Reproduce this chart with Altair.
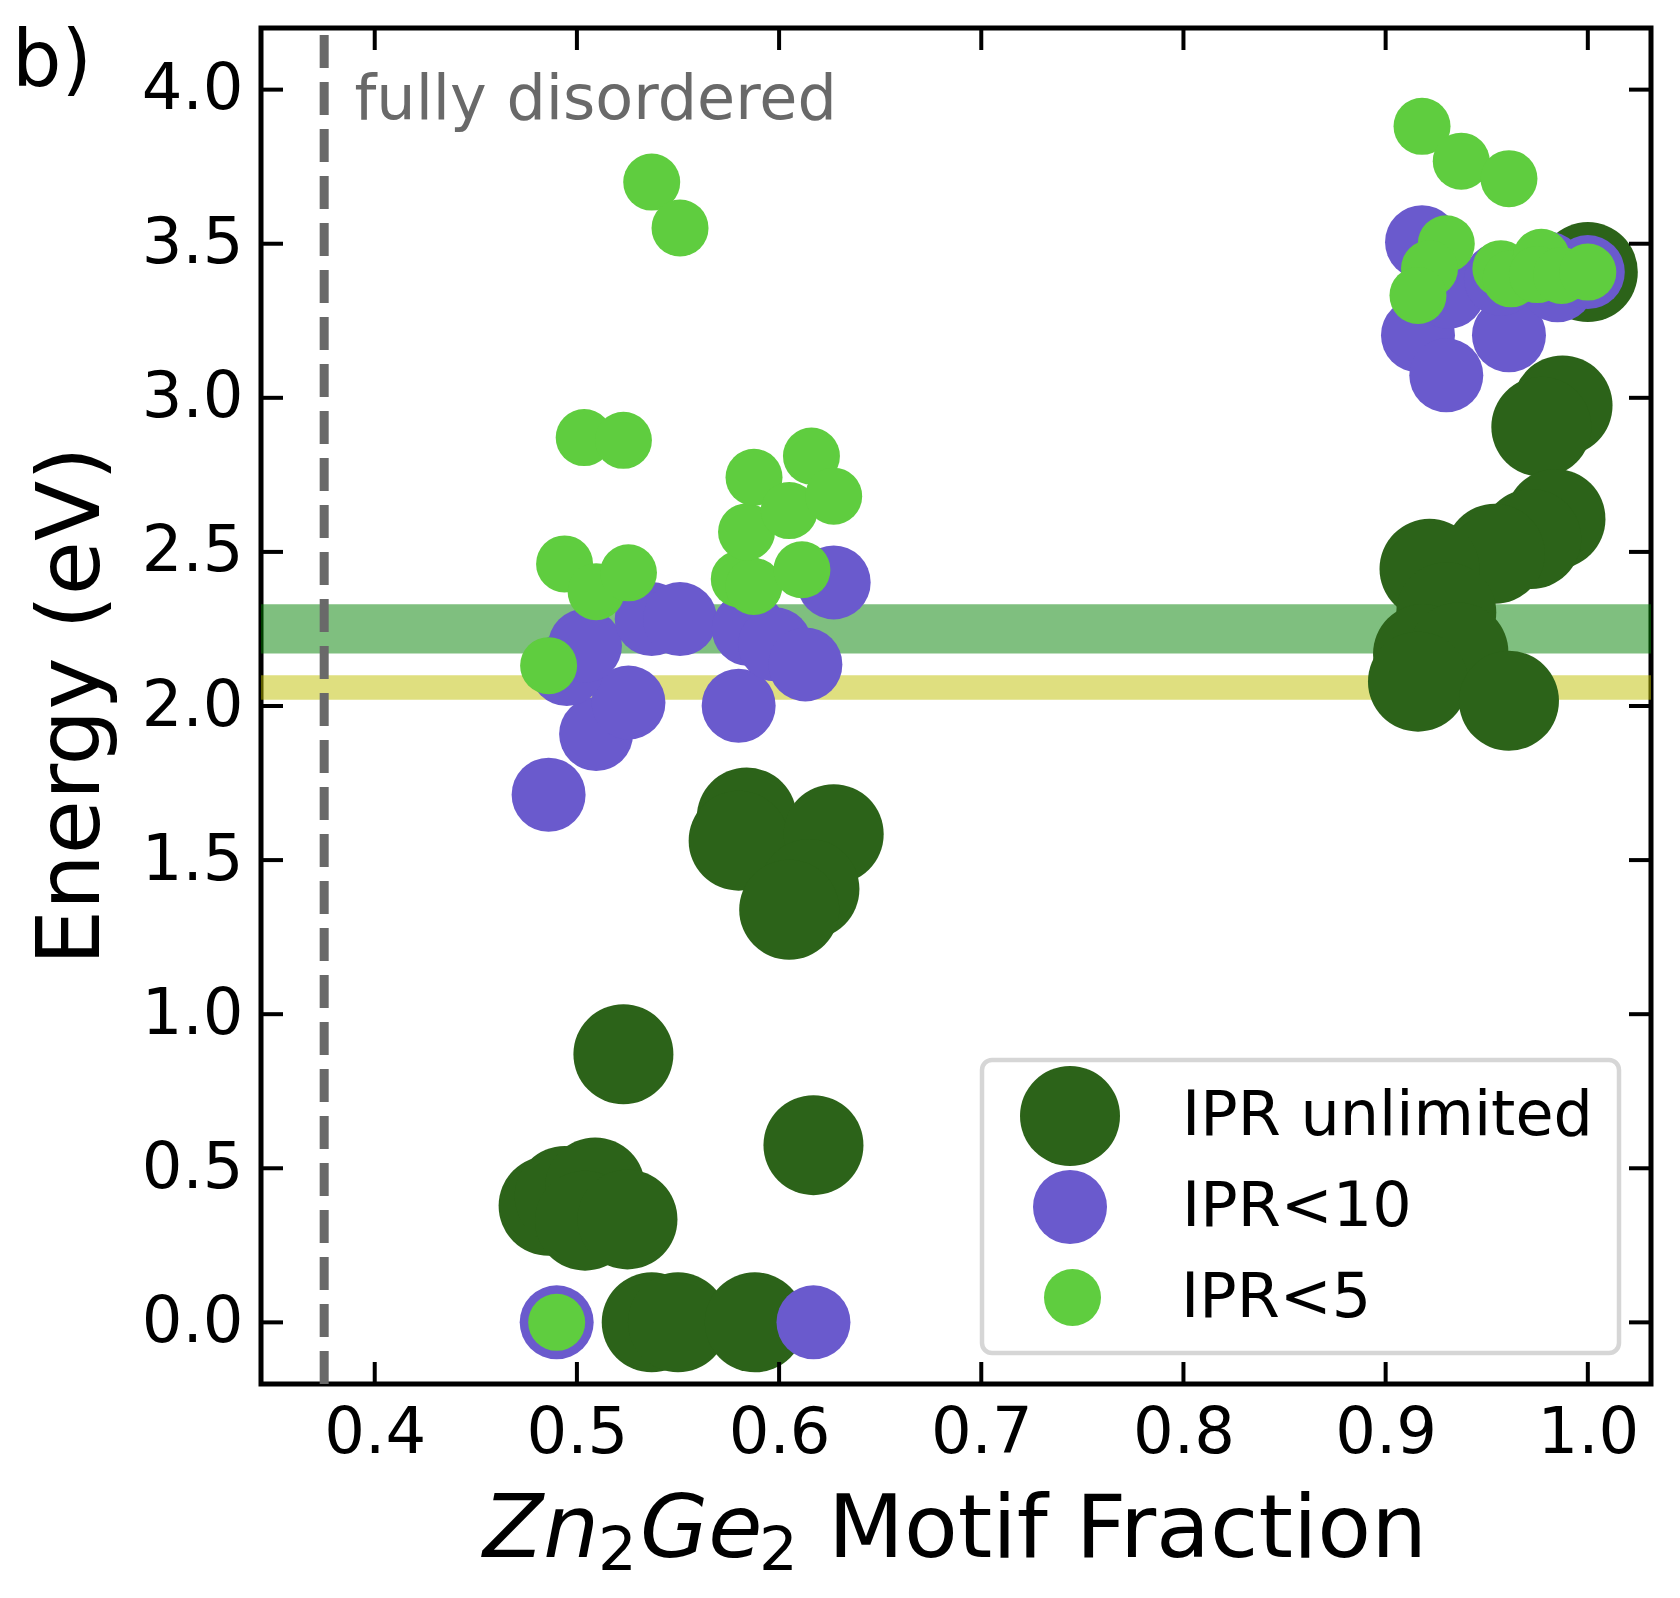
import altair as alt
import pandas as pd

# ---------------- data ----------------
cat_names = ["IPR unlimited", "IPR<10", "IPR<5"]
cat_colors = ["#2c6319", "#6a5acd", "#5fcd3f"]

unl_x = [0.537, 0.550, 0.588, 0.486, 0.494, 0.509, 0.504, 0.525, 0.523, 0.617,
         0.584, 0.580, 0.627, 0.615, 0.605,
         1.000, 0.9875, 0.977, 0.984, 0.972, 0.954, 0.9217, 0.930, 0.9185, 0.936,
         0.916, 0.961]
unl_y = [0.0, 0.0, 0.0, 0.378, 0.41, 0.438, 0.330, 0.334, 0.870, 0.575,
         1.638, 1.563, 1.584, 1.406, 1.339,
         3.408, 2.975, 2.906, 2.607, 2.542, 2.494, 2.445, 2.304, 2.169, 2.174,
         2.079, 2.017]

ipr10_x = [0.490, 0.617, 0.486, 0.5095, 0.5255, 0.495, 0.504, 0.537, 0.551, 0.580,
           0.585, 0.598, 0.613, 0.627,
           0.918, 0.916, 0.930, 0.931, 0.961, 0.957, 0.985, 0.980, 1.000]
ipr10_y = [0.0, 0.0, 1.712, 1.909, 2.011, 2.12, 2.196, 2.282, 2.282, 2.001,
           2.25, 2.20, 2.135, 2.401,
           3.505, 3.203, 3.073, 3.344, 3.203, 3.386, 3.365, 3.42, 3.408]

ipr5_x = [0.490, 0.486, 0.4939, 0.5095, 0.5255, 0.5036, 0.523, 0.537, 0.551,
          0.5803, 0.5875, 0.6113, 0.5839, 0.5876, 0.605, 0.616, 0.627,
          0.918, 0.9374, 0.961, 0.930, 0.9217, 0.916, 0.957, 0.962, 0.977, 0.975,
          0.987, 1.000]
ipr5_y = [0.0, 2.131, 2.461, 2.371, 2.432, 2.871, 2.862, 3.70, 3.551,
          2.412, 2.388, 2.442, 2.565, 2.742, 2.634, 2.811, 2.681,
          3.881, 3.768, 3.711, 3.50, 3.419, 3.332, 3.419, 3.386, 3.456, 3.40,
          3.397, 3.408]

band_green = [2.17, 2.33]
band_yellow = [2.02, 2.10]
disordered_x = [0.375]
annot_text = ["fully disordered"]
annot_x = [0.39]
annot_y = [3.905]

x_ticks = [0.4, 0.5, 0.6, 0.7, 0.8, 0.9, 1.0]
y_ticks = [0.0, 0.5, 1.0, 1.5, 2.0, 2.5, 3.0, 3.5, 4.0]

# ---------------- layout ----------------
W, H = 1390, 1356
FONT = "DejaVu Sans"
TICK = 22

xs = alt.Scale(domain=[0.34375, 1.03125], nice=False, zero=False)
ys = alt.Scale(domain=[-0.2, 4.2], nice=False, zero=False)

x_axis = alt.Axis(values=x_ticks, format=".1f", labelFontSize=64, labelFont=FONT,
                  labelColor="black", labelPadding=17, ticks=False, tickSize=0,
                  domain=False, grid=False, labelFlush=False, labelOverlap=False,
                  title=None)
y_axis = alt.Axis(values=y_ticks, format=".1f", labelFontSize=64, labelFont=FONT,
                  labelColor="black", labelPadding=18, ticks=False, tickSize=0,
                  domain=False, grid=False, labelFlush=False, labelOverlap=False,
                  title=None)


def X(field):
    return alt.X(field, scale=xs, axis=x_axis, title=None)


def Y(field):
    return alt.Y(field, scale=ys, axis=y_axis, title=None)


df_unl = pd.DataFrame({"x": unl_x, "y": unl_y, "cat": cat_names[0]})
df_10 = pd.DataFrame({"x": ipr10_x, "y": ipr10_y, "cat": cat_names[1]})
df_5 = pd.DataFrame({"x": ipr5_x, "y": ipr5_y, "cat": cat_names[2]})

sizes = [10000, 5476, 3249]
diam = [100, 74, 57]
# legend geometry (plot-relative px)
sym_cx = 809
lab_x = [921, 921, 915]
sym_cy = [1088, 1179, 1267]


def point_layer(df, i):
    lx = sym_cx - diam[i] / 2
    leg = alt.Legend(orient="none", legendX=lx,
                     legendY=sym_cy[i] - diam[i] / 2, padding=0,
                     labelFontSize=62, labelFont=FONT, labelColor="black",
                     labelOffset=lab_x[i] - lx - diam[i],
                     labelLimit=1000, symbolSize=sizes[i], symbolType="circle",
                     symbolStrokeWidth=0, symbolOpacity=1, title=None)
    return alt.Chart(df).mark_circle(size=sizes[i], opacity=1).encode(
        x=X("x:Q"), y=Y("y:Q"),
        color=alt.Color("cat:N", scale=alt.Scale(domain=[cat_names[i]], range=[cat_colors[i]]),
                        legend=leg, title=None),
    )


bands_g = alt.Chart(pd.DataFrame({"y0": [band_green[0]], "y1": [band_green[1]]})).mark_rect(
    color="green", opacity=0.5).encode(
    y=Y("y0:Q"), y2="y1:Q", x=alt.value(0), x2=alt.value(W))
bands_y = alt.Chart(pd.DataFrame({"y0": [band_yellow[0]], "y1": [band_yellow[1]]})).mark_rect(
    color="#bfbf00", opacity=0.5).encode(
    y=Y("y0:Q"), y2="y1:Q", x=alt.value(0), x2=alt.value(W))

vline = alt.Chart(pd.DataFrame({"x": disordered_x})).mark_rule(
    color="#696969", strokeWidth=9, strokeDash=[33, 14]).encode(
    x=X("x:Q"), y=alt.value(H), y2=alt.value(0))

annot = alt.Chart(pd.DataFrame({"x": annot_x, "y": annot_y, "t": annot_text})).mark_text(
    font=FONT, fontSize=62, color="#696969", align="left", baseline="alphabetic").encode(
    x=X("x:Q"), y=Y("y:Q"), text="t:N")

dfx = pd.DataFrame({"v": x_ticks})
dfy = pd.DataFrame({"v": y_ticks})
tick_kw = dict(color="black", strokeWidth=4)
t_bottom = alt.Chart(dfx).mark_rule(**tick_kw).encode(
    x=X("v:Q"), y=alt.value(H), y2=alt.value(H - TICK))
t_top = alt.Chart(dfx).mark_rule(**tick_kw).encode(
    x=X("v:Q"), y=alt.value(0), y2=alt.value(TICK))
t_left = alt.Chart(dfy).mark_rule(**tick_kw).encode(
    y=Y("v:Q"), x=alt.value(0), x2=alt.value(TICK))
t_right = alt.Chart(dfy).mark_rule(**tick_kw).encode(
    y=Y("v:Q"), x=alt.value(W), x2=alt.value(W - TICK))

legend_frame = alt.Chart(pd.DataFrame({"a": [0]})).mark_rect(
    fill="white", fillOpacity=0.8, stroke="#d6d6d6", strokeWidth=4.5, cornerRadius=10).encode(
    x=alt.value(721), x2=alt.value(1358), y=alt.value(1032), y2=alt.value(1325))


def label(text, x, y, size, style="normal", align="left", angle=0):
    return alt.Chart(pd.DataFrame({"t": [text]})).mark_text(
        font=FONT, fontSize=size, fontStyle=style, align=align, baseline="alphabetic",
        angle=angle, color="black").encode(x=alt.value(x), y=alt.value(y), text="t:N")


ytitle = label("Energy (eV)", -162, H / 2, 88, align="center", angle=270)
xt_1 = label("Zn", 222, 1529, 88, style="italic")
xt_2 = label("2", 337, 1542, 61)
xt_3 = label("Ge", 379, 1529, 88, style="italic")
xt_4 = label("2", 498, 1542, 61)
xt_5 = label("Motif Fraction", 567, 1529, 88)
panel = label("b)", -249, 58, 78)

chart = alt.layer(
    bands_g, bands_y, vline,
    point_layer(df_unl, 0), point_layer(df_10, 1), point_layer(df_5, 2),
    annot, t_bottom, t_top, t_left, t_right, legend_frame,
    ytitle, xt_1, xt_2, xt_3, xt_4, xt_5, panel,
).resolve_scale(color="independent").properties(
    width=W, height=H, autosize="none",
    padding={"left": 253, "top": 20, "right": 21, "bottom": 214},
).configure(font=FONT, background="white").configure_view(stroke="black", strokeWidth=5)

chart.save("out.html", embed_options={"renderer": "svg", "actions": False})
